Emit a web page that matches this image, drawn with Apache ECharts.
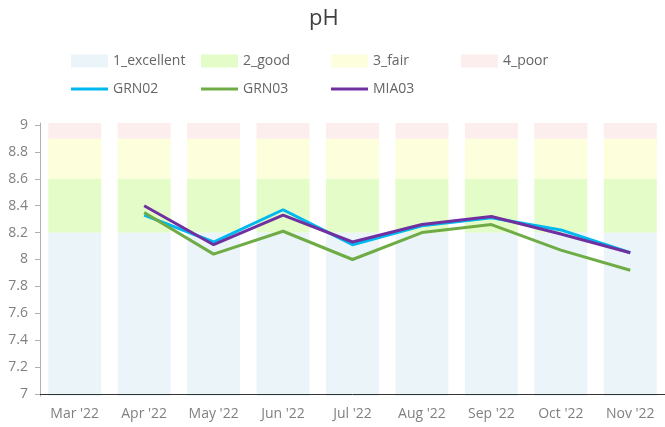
<!DOCTYPE html>
<html>
<head>
<meta charset="utf-8">
<script src="https://cdn.jsdelivr.net/npm/echarts@6/dist/echarts.min.js"></script>
<style>
  html, body { margin: 0; padding: 0; background: #fff; }
  #chart { width: 665px; height: 427px; }
</style>
</head>
<body>
<div id="chart"></div>
<script>
const months = ["Mar '22", "Apr '22", "May '22", "Jun '22", "Jul '22", "Aug '22", "Sep '22", "Oct '22", "Nov '22"];

// quality bands, stacked (band thickness)
const excellent = [8.2, 8.2, 8.2, 8.2, 8.2, 8.2, 8.2, 8.2, 8.2];
const good = [0.4, 0.4, 0.4, 0.4, 0.4, 0.4, 0.4, 0.4, 0.4];
const fair = [0.3, 0.3, 0.3, 0.3, 0.3, 0.3, 0.3, 0.3, 0.3];
const poor = [0.2, 0.2, 0.2, 0.2, 0.2, 0.2, 0.2, 0.2, 0.2];

// station readings
const grn02 = ['-', 8.33, 8.13, 8.37, 8.11, 8.25, 8.31, 8.22, 8.05];
const grn03 = ['-', 8.35, 8.04, 8.21, 8.00, 8.20, 8.26, 8.07, 7.92];
const mia03 = ['-', 8.40, 8.11, 8.33, 8.13, 8.26, 8.32, 8.19, 8.05];

const yTicks = [7, 7.2, 7.4, 7.6, 7.8, 8, 8.2, 8.4, 8.6, 8.8, 9];

const bandNames = ['1_excellent', '2_good', '3_fair', '4_poor'];
const lineNames = ['GRN02', 'GRN03', 'MIA03'];

const font = 'Open Sans';

const bandSeries = (name, data, color) => ({
  name: name,
  type: 'bar',
  stack: 'band',
  data: data,
  barWidth: 53,
  itemStyle: { color: color },
  emphasis: { disabled: true },
  silent: true,
});

const lineSeries = (name, data, color) => ({
  name: name,
  type: 'line',
  data: data,
  showSymbol: false,
  symbol: 'none',
  lineStyle: { color: color, width: 3 },
  itemStyle: { color: color },
  z: 5,
});

// one legend per item so they sit in fixed columns
const legendItem = (name, i, top, h) => ({
  data: [name],
  left: 71 + 130 * i,
  top: top,
  padding: 0,
  icon: 'rect',
  itemWidth: 37,
  itemHeight: h,
  textStyle: { fontFamily: font, fontSize: 14, color: '#666' },
});

const option = {
  animation: false,
  title: {
    text: 'pH',
    left: 304,
    top: 3,
    textStyle: { fontFamily: font, fontSize: 22, fontWeight: 'normal', color: '#404040' },
  },
  legend: [
    ...bandNames.map((n, i) => legendItem(n, i, 54, 13)),
    ...lineNames.map((n, i) => legendItem(n, i, 82, 3)),
  ],
  grid: { left: 40, right: 0, top: 123, bottom: 31 },
  xAxis: {
    type: 'category',
    data: months,
    offset: -2,
    z: 10,
    axisLine: { lineStyle: { color: '#333', width: 1 } },
    axisTick: { alignWithLabel: true, length: 4, lineStyle: { color: '#999' } },
    axisLabel: { fontFamily: font, fontSize: 14, color: '#808080', margin: 13 },
  },
  yAxis: {
    type: 'value',
    min: 6.985,
    max: 9.015,
    z: 10,
    splitLine: { show: false },
    axisLine: { show: true, onZero: false, lineStyle: { color: '#b0b0b0' } },
    axisTick: { show: true, length: 5, customValues: yTicks, lineStyle: { color: '#b0b0b0' } },
    axisLabel: { fontFamily: font, fontSize: 14, color: '#808080', margin: 12, customValues: yTicks },
  },
  series: [
    bandSeries(bandNames[0], excellent, '#ebf5f9'),
    bandSeries(bandNames[1], good, '#e4fcc8'),
    bandSeries(bandNames[2], fair, '#fcfedc'),
    bandSeries(bandNames[3], poor, '#fdeeee'),
    lineSeries(lineNames[0], grn02, '#00b8f0'),
    lineSeries(lineNames[1], grn03, '#6fac45'),
    lineSeries(lineNames[2], mia03, '#7030a0'),
  ],
};

const chart = echarts.init(document.getElementById('chart'));
chart.setOption(option);
</script>
</body>
</html>
